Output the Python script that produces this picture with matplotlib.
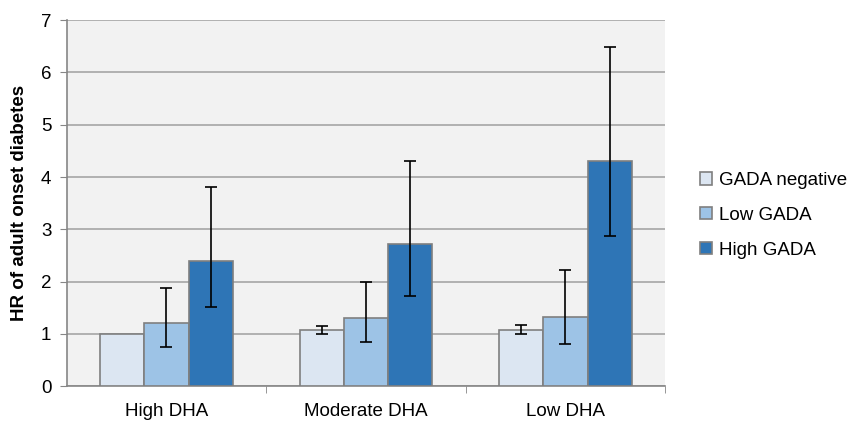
import numpy as np
import matplotlib.pyplot as plt

plt.rcParams['font.family'] = ['Liberation Sans', 'DejaVu Sans']

# data
groups = ["High DHA", "Moderate DHA", "Low DHA"]
series = ["GADA negative", "Low GADA", "High GADA"]
hr_neg = [1.0, 1.07, 1.07]
hr_low = [1.2, 1.3, 1.33]
hr_high = [2.4, 2.72, 4.3]
lo_neg = [1.0, 1.0, 1.0]
hi_neg = [1.0, 1.15, 1.16]
lo_low = [0.75, 0.85, 0.81]
hi_low = [1.88, 2.0, 2.22]
lo_high = [1.52, 1.72, 2.87]
hi_high = [3.8, 4.3, 6.48]

colors = ["#dce6f2", "#9dc3e6", "#2e75b6"]

fig = plt.figure(figsize=(8.56, 4.21), dpi=100)
ax = fig.add_axes([0.078, 0.083, 0.699, 0.869])
ax.set_facecolor("#f2f2f2")

x = np.arange(len(groups))
w = 0.222
vals = [hr_neg, hr_low, hr_high]
los = [lo_neg, lo_low, lo_high]
his = [hi_neg, hi_low, hi_high]
for i in range(3):
    pos = x + (i - 1) * w
    v = np.array(vals[i])
    ax.bar(pos, v, width=w, color=colors[i], edgecolor="#7f7f7f",
           linewidth=1.2, label=series[i], zorder=3)
    # High DHA reference group has no error bar
    keep = np.array(his[i]) > np.array(los[i])
    err = [(v - np.array(los[i]))[keep], (np.array(his[i]) - v)[keep]]
    ax.errorbar(pos[keep], v[keep], yerr=err, fmt="none", ecolor="black",
                elinewidth=1.2, capsize=4, capthick=1.2, zorder=4)

ax.set_xlim(-0.5, 2.5)
ax.set_ylim(0, 7)
ax.set_yticks(range(8))
ax.yaxis.grid(True, color="#a6a6a6", linewidth=1.2, zorder=0)
ax.set_axisbelow(True)

ax.set_xticks(x)
ax.set_xticklabels(groups, fontsize=13.5)
ax.set_xticks([0.5, 1.5, 2.5], minor=True)
ax.tick_params(axis="x", which="major", length=0, pad=12)
ax.tick_params(axis="x", which="minor", length=5, color="#868686")
ax.tick_params(axis="y", length=5, color="#868686", labelsize=13.5, pad=6)

for s in ["top", "right"]:
    ax.spines[s].set_visible(False)
for s in ["left", "bottom"]:
    ax.spines[s].set_color("#868686")
    ax.spines[s].set_linewidth(1.2)

ax.set_ylabel("HR of adult onset diabetes", fontsize=13.5, fontweight="bold", labelpad=9)

leg = ax.legend(loc="center left", bbox_to_anchor=(1.03, 0.467), frameon=False,
                fontsize=13.5, handlelength=0.65, handleheight=0.65, handletextpad=0.35,
                labelspacing=0.95)

fig.savefig("out.png", dpi=100)
